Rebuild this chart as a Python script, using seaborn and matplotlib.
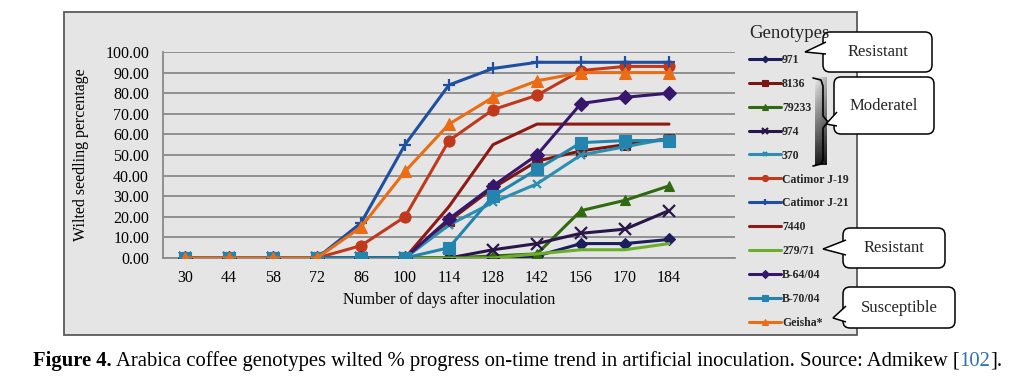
import matplotlib
matplotlib.use("Agg")
import matplotlib.pyplot as plt
import numpy as np
import seaborn as sns
from matplotlib.patches import Rectangle, FancyBboxPatch, Polygon

# days after inoculation (x categories)
days = [30, 44, 58, 72, 86, 100, 114, 128, 142, 156, 170, 184]

# wilted seedling percentage per genotype
g971 = [0, 0, 0, 0, 0, 0, 0, 0, 1, 7, 7, 9]
g8136 = [0, 0, 0, 0, 0, 0, 18, 34, 47, 52, 55, 58]
g79233 = [0, 0, 0, 0, 0, 0, 0, 1, 2, 23, 28, 35]
g974 = [0, 0, 0, 0, 0, 0, 0, 4, 7, 12, 14, 23]
g370 = [0, 0, 0, 0, 0, 0, 16, 27, 36, 50, 54, 58]
catimor_j19 = [0, 0, 0, 0, 6, 20, 57, 72, 79, 91, 93, 93]
catimor_j21 = [0, 0, 0, 0, 17, 55, 84, 92, 95, 95, 95, 95]
g7440 = [0, 0, 0, 0, 0, 0, 25, 55, 65, 65, 65, 65]
g279_71 = [0, 0, 0, 0, 0, 0, 0, 0, 2, 4, 4, 7]
b64_04 = [0, 0, 0, 0, 0, 0, 19, 35, 50, 75, 78, 80]
b70_04 = [0, 0, 0, 0, 0, 0, 5, 30, 43, 56, 57, 57]
geisha = [0, 0, 0, 0, 15, 42, 65, 78, 86, 90, 90, 90]

genotypes = ["971", "8136", "79233", "974", "370", "Catimor J-19", "Catimor J-21",
             "7440", "279/71", "B-64/04", "B-70/04", "Geisha*"]
series = [g971, g8136, g79233, g974, g370, catimor_j19, catimor_j21,
          g7440, g279_71, b64_04, b70_04, geisha]
colors = ["#1b1f5c", "#7a1712", "#2f6a10", "#2a1648", "#2a8fb0", "#c0391c",
          "#1f4fa0", "#8e1a14", "#6cae2c", "#36176b", "#2384ad", "#ea6d16"]
markers = ["D", "s", "^", "x", "x", "o", "+", None, None, "D", "s", "^"]
msizes = [6, 7, 7, 8, 6, 8, 9, 0, 0, 7, 9, 9]

sns.set_theme(style="white")
plt.rcParams["font.family"] = ["Liberation Serif", "DejaVu Serif"]

W, H = 1016, 385
fig = plt.figure(figsize=(W / 100, H / 100), dpi=100)

# gray chart area box (pixel coords)
bg = fig.add_axes([0, 0, 1, 1], zorder=0)
bg.set_xlim(0, W)
bg.set_ylim(H, 0)
bg.axis("off")
bg.add_patch(Rectangle((64, 12), 793, 323, fc="#e5e5e5", ec="#5a5a5a", lw=1.3))

ax = fig.add_axes([163 / W, 1 - 258 / H, (735 - 163) / W, (258 - 52) / H], zorder=1)
ax.patch.set_alpha(0)

for name, vals, col, mk, ms in zip(genotypes, series, colors, markers, msizes):
    sns.lineplot(x=days, y=vals, ax=ax, color=col, marker=mk, markersize=ms,
                 markeredgecolor=col, markeredgewidth=1.6 if mk in ("x", "+") else 0.8,
                 linewidth=2.2, label=name, zorder=3)

if ax.get_legend() is not None:
    ax.get_legend().remove()

ax.set_xlim(23, 205)
ax.set_ylim(0, 100)
ax.set_xticks(days)
ax.set_xticklabels([str(d) for d in days], fontsize=11.5)
ax.set_yticks(range(0, 101, 10))
ax.set_yticklabels([f"{v:.2f}" for v in range(0, 101, 10)], fontsize=11.5)
ax.grid(axis="y", color="#8a8a8a", lw=1.3)
ax.grid(axis="x", visible=False)
for s in ["top", "right"]:
    ax.spines[s].set_visible(False)
ax.spines["left"].set_color("#8a8a8a")
ax.spines["bottom"].set_color("#8a8a8a")
ax.spines["left"].set_linewidth(1.3)
ax.spines["bottom"].set_linewidth(1.3)
ax.tick_params(axis="y", length=4, color="#8a8a8a", pad=6, labelcolor="black")
ax.tick_params(axis="x", length=0, pad=9, labelcolor="black")
ax.set_xlabel("Number of days after inoculation", fontsize=11.5, labelpad=4, color="black")
ax.set_ylabel("Wilted seedling percentage", fontsize=11.5, color="black")
ax.yaxis.set_label_coords(-0.13, 0.5)

# overlay for legend, callouts and caption
over = fig.add_axes([0, 0, 1, 1], zorder=3)
over.set_xlim(0, W)
over.set_ylim(H, 0)
over.axis("off")

handles, labels = ax.get_legend_handles_labels()
leg = over.legend(handles, labels, loc="upper left", bbox_to_anchor=(749, 25),
                  bbox_transform=over.transData, frameon=False, title="Genotypes",
                  alignment="left", borderaxespad=0, borderpad=0,
                  prop={"size": 8.5, "weight": "bold"}, labelspacing=1.01,
                  handlelength=2.7, handletextpad=0.1, markerscale=0.55)
leg.get_title().set_fontsize(13.5)

# gradient bracket for moderate group
gx = np.linspace(815, 827, 11)
gy = np.linspace(77, 165, 41)
shade = np.linspace(0.92, 0.12, 40)[:, None] * np.linspace(1.0, 0.75, 10)[None, :]
over.pcolormesh(gx, gy, shade, cmap="gray", vmin=0, vmax=1, zorder=1, shading="flat")
bx = [813, 821, 823, 823, 828, 823, 823, 821, 813]
by = [78, 80, 86, 116, 122, 128, 160, 164, 166]
over.plot(bx, by, color="black", lw=1.2, zorder=2)
over.set_xlim(0, W)
over.set_ylim(H, 0)


def callout(x0, y0, x1, y1, text, tip, base):
    box = FancyBboxPatch((x0, y0), x1 - x0, y1 - y0,
                         boxstyle="round,pad=0,rounding_size=7",
                         fc="white", ec="black", lw=1.1, zorder=4)
    over.add_patch(box)
    over.add_patch(Polygon([base[0], tip, base[1]], closed=False, fc="white",
                           ec="black", lw=1.1, zorder=5))
    over.text((x0 + x1) / 2, (y0 + y1) / 2, text, ha="center", va="center",
              fontsize=12, zorder=6)


callout(823, 32, 932, 72, "Resistant", (805, 52), [(826, 42), (826, 54)])
callout(834, 77, 934, 134, "Moderatel", (826, 124), [(837, 112), (837, 126)])
callout(843, 228, 945, 268, "Resistant", (823, 249), [(846, 240), (846, 255)])
callout(843, 287, 955, 328, "Susceptible", (833, 318), [(846, 306), (846, 322)])

# caption with mixed styles, shrink font until it fits the reference width
fig.canvas.draw()
renderer = fig.canvas.get_renderer()
parts = [("Figure 4.", "bold", "black"),
         (" Arabica coffee genotypes wilted % progress on-time trend in artificial inoculation. Source: Admikew [", "normal", "black"),
         ("102", "normal", "#2f6fb5"),
         ("].", "normal", "black")]
size = 15.2
while True:
    texts = []
    x = 33
    for txt, wt, col in parts:
        t = over.text(x, 361, txt, fontsize=size, fontweight=wt, color=col,
                      ha="left", va="center")
        x += t.get_window_extent(renderer).width
        texts.append(t)
    if x <= 1008 or size < 12:
        break
    for t in texts:
        t.remove()
    size -= 0.1

fig.savefig("out.png", dpi=100)
